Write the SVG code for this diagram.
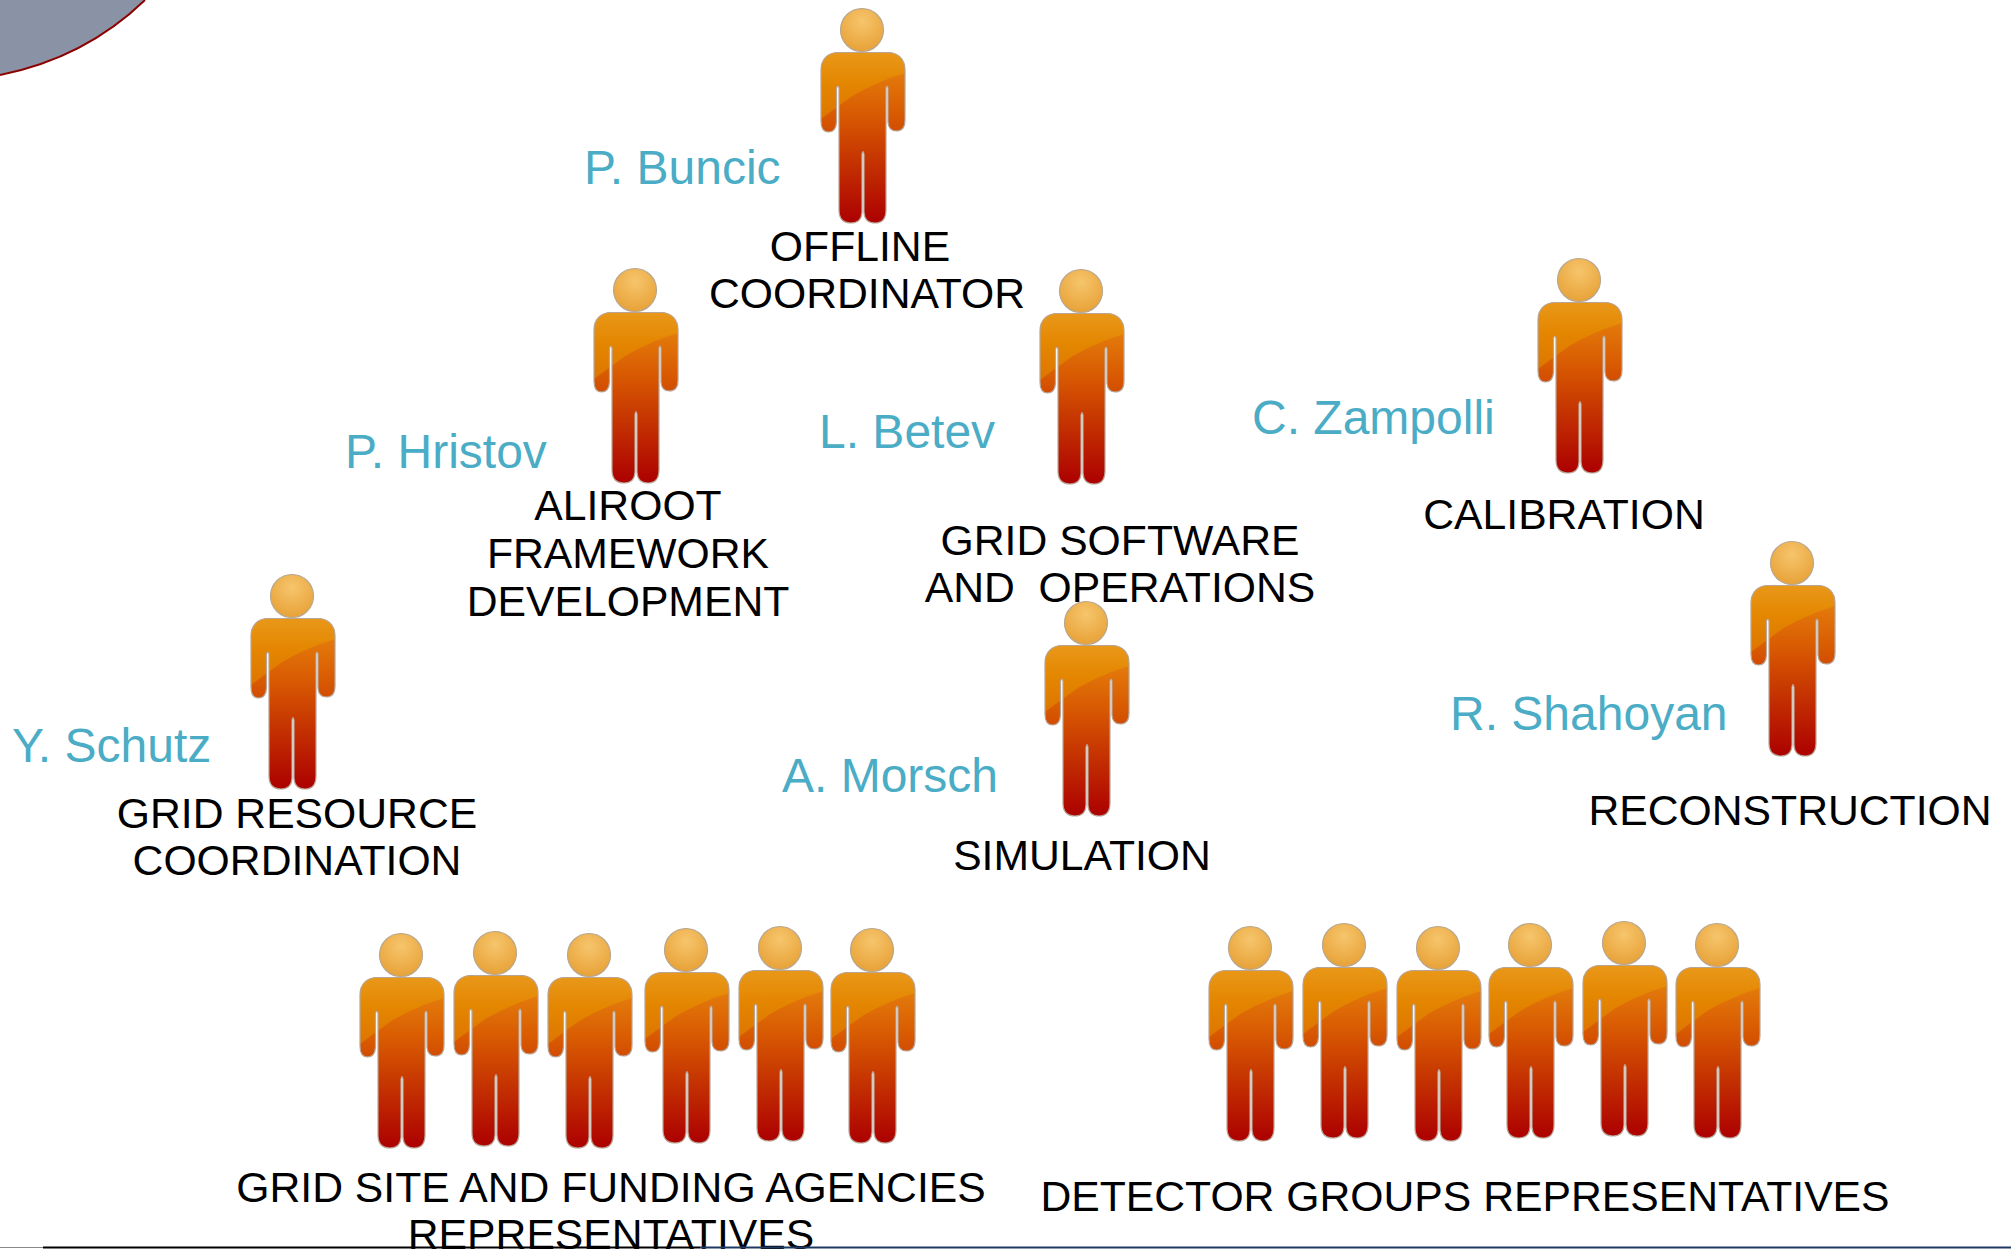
<svg xmlns="http://www.w3.org/2000/svg" width="2011" height="1249" viewBox="0 0 2011 1249">
<style>
text{font-family:"Liberation Sans",Arial,sans-serif;text-anchor:middle}
.r{font-size:42.7px;fill:#000}
.n{font-size:48px;fill:#4bacc6;text-anchor:start}
</style>
<defs>
<linearGradient id="b" x1="0" y1="0" x2="0" y2="1"><stop offset="0" stop-color="#e88a10"/><stop offset=".35" stop-color="#d95c02"/><stop offset="1" stop-color="#ac0000"/></linearGradient>
<radialGradient id="h" cx=".5" cy=".3" r=".7"><stop offset="0" stop-color="#f6c56c"/><stop offset="1" stop-color="#e8a238"/></radialGradient>
<linearGradient id="g" x1="0" y1="0" x2="0" y2="1"><stop offset="0" stop-color="#ea9c20"/><stop offset=".5" stop-color="#e48600"/><stop offset="1" stop-color="#dd7400"/></linearGradient>
<clipPath id="c"><path id="bp" d="M-24,22.500H26C36,22.500 43,29 43,40V90Q43,101 34.500,101Q26.500,101 26,92V58Q25.200,54 24,58V180Q24,193 13,193Q2.500,193 2,182V124Q1,119 0,124V182Q-.5,193 -11,193Q-23,193 -23,180V58Q-24,54 -25.500,58V92Q-26,102 -33.500,102Q-41,102 -41,91V40C-41,29 -34,22.500 -24,22.500Z"/></clipPath>
<symbol id="person" overflow="visible">
<circle r="21.500" fill="url(#h)" stroke="#b8a78f" stroke-width="1.2"/>
<use href="#bp" fill="url(#b)"/>
<path d="M-45,15H50V41Q18,50 -9,65.500Q-25,77 -45,92Z" fill="url(#g)" clip-path="url(#c)"/>
<use href="#bp" fill="none" stroke="#b8a596" stroke-width="1.2"/>
</symbol>
</defs>
<rect width="2011" height="1249" fill="#fff"/>
<g id="corner"><path d="M0,75Q85,58 145,0H0Z" fill="#8a93a5"/><path d="M0,75Q85,58 145,0" fill="none" stroke="#8b0000" stroke-width="2"/></g>
<g id="coordinator"><use href="#person" x="862" y="30"/><text class="n" x="584" y="184">P. Buncic</text><text class="r" x="860" y="261">OFFLINE</text><text class="r" x="867" y="308">COORDINATOR</text></g>
<g id="aliroot"><use href="#person" x="635" y="290"/><text class="n" x="345" y="468">P. Hristov</text><text class="r" x="628" y="520">ALIROOT</text><text class="r" x="628" y="568">FRAMEWORK</text><text class="r" x="628" y="616">DEVELOPMENT</text></g>
<g id="grid-software"><use href="#person" x="1081" y="291"/><text class="n" x="819" y="448">L. Betev</text><text class="r" x="1120" y="555">GRID SOFTWARE</text><text class="r" x="1120" y="602" xml:space="preserve">AND  OPERATIONS</text></g>
<g id="calibration"><use href="#person" x="1579" y="280"/><text class="n" x="1252" y="434">C. Zampolli</text><text class="r" x="1564" y="529">CALIBRATION</text></g>
<g id="reconstruction"><use href="#person" x="1792" y="563"/><text class="n" x="1450" y="730">R. Shahoyan</text><text class="r" x="1790" y="825">RECONSTRUCTION</text></g>
<g id="simulation"><use href="#person" x="1086" y="623"/><text class="n" x="782" y="792">A. Morsch</text><text class="r" x="1082" y="870">SIMULATION</text></g>
<g id="grid-resource"><use href="#person" x="292" y="596"/><text class="n" x="12" y="762">Y. Schutz</text><text class="r" x="297" y="828">GRID RESOURCE</text><text class="r" x="297" y="875">COORDINATION</text></g>
<g id="grid-site"><use href="#person" x="401" y="955"/><use href="#person" x="495" y="953"/><use href="#person" x="589" y="955"/><use href="#person" x="686" y="950"/><use href="#person" x="780" y="948"/><use href="#person" x="872" y="950"/><text class="r" x="611" y="1202">GRID SITE AND FUNDING AGENCIES</text><text class="r" x="611" y="1249">REPRESENTATIVES</text></g>
<g id="detector"><use href="#person" x="1250" y="948"/><use href="#person" x="1344" y="945"/><use href="#person" x="1438" y="948"/><use href="#person" x="1530" y="945"/><use href="#person" x="1624" y="943"/><use href="#person" x="1717" y="945"/><text class="r" x="1465" y="1211">DETECTOR GROUPS REPRESENTATIVES</text></g>
<g id="base"><path d="M0,1247.500H43" stroke="#888" stroke-width="1" fill="none"/><path d="M43,1247.500H700" stroke="#000" stroke-width="2" fill="none"/><path d="M700,1247.500H2011" stroke="#1f3864" stroke-width="2" fill="none"/></g>
</svg>
